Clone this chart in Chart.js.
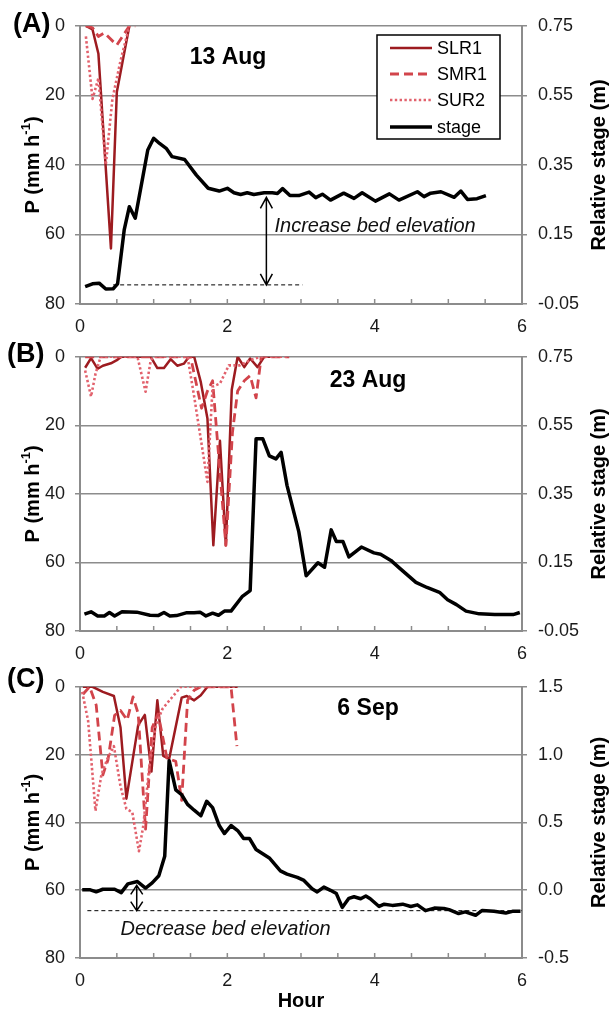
<!DOCTYPE html>
<html>
<head>
<meta charset="utf-8">
<script src="https://cdn.jsdelivr.net/npm/chart.js@4.4.1/dist/chart.umd.min.js"></script>
<style>
  body { margin: 0; background: #fff; }
  .panel { position: absolute; left: 0; width: 609px; }
</style>
</head>
<body>
<div class="panel" style="top:0;height:335px"><canvas id="chartA"></canvas></div>
<div class="panel" style="top:335px;height:330px"><canvas id="chartB"></canvas></div>
<div class="panel" style="top:665px;height:348px"><canvas id="chartC"></canvas></div>
<script>
// series names + tick labels
const seriesNames = ['SLR1', 'SMR1', 'SUR2', 'stage'];
const rainTicks = [0, 20, 40, 60, 80];
const stageTicksAB = [-0.05, 0.15, 0.35, 0.55, 0.75];
const stageTicksC = [-0.5, 0, 0.5, 1, 1.5];
const hourLabels = [0, 2, 4, 6];

// ---- (A) 13 Aug ----
const slrA_h = [0.08, 0.17, 0.25, 0.42, 0.50, 0.58, 0.67];
const slrA_p = [0, 1, 8, 64, 19, 10, 0];
const smrA_h = [0.08, 0.17, 0.25, 0.33, 0.50, 0.67, 0.75];
const smrA_p = [0, 0.5, 3, 2, 5.5, 0, 0];
const surA_h = [0.08, 0.17, 0.25, 0.35, 0.44, 0.55, 0.67];
const surA_p = [3, 21, 15, 40, 21, 10, 0];
const stageA_h = [0.07, 0.17, 0.26, 0.35, 0.45, 0.51, 0.60, 0.67, 0.75, 0.92, 1.00, 1.08, 1.17, 1.25,
  1.42, 1.58, 1.74, 1.89, 2.00, 2.09, 2.18, 2.27, 2.36, 2.50, 2.61, 2.68, 2.75, 2.85, 2.97, 3.11,
  3.20, 3.29, 3.40, 3.58, 3.72, 3.83, 4.01, 4.20, 4.33, 4.58, 4.67, 4.76, 4.90, 5.08, 5.17, 5.26,
  5.39, 5.51];
const stageA_m = [0.000, 0.008, 0.010, -0.007, -0.006, 0.008, 0.163, 0.230, 0.197, 0.393, 0.427, 0.412, 0.398, 0.374,
  0.366, 0.321, 0.283, 0.275, 0.283, 0.270, 0.265, 0.270, 0.265, 0.270, 0.270, 0.268, 0.282, 0.262, 0.262, 0.272,
  0.256, 0.266, 0.249, 0.269, 0.254, 0.270, 0.246, 0.267, 0.249, 0.273, 0.259, 0.269, 0.273, 0.257, 0.275, 0.251,
  0.253, 0.262];
const bedA_h = [0.45, 3.02];
const bedA_m = [0.005, 0.005];

// ---- (B) 23 Aug ----
const slrB_h = [0.07, 0.15, 0.24, 0.31, 0.42, 0.50, 0.56, 0.96, 1.05, 1.14, 1.23, 1.32, 1.41, 1.48, 1.55,
  1.64, 1.73, 1.81, 1.90, 1.98, 2.06, 2.14, 2.23, 2.31, 2.41, 2.50, 2.58];
const slrB_p = [3.2, 0.4, 3.5, 2.6, 1.9, 1, 0, 0, 3.3, 3.3, 0.7, 2.6, 2, 0, 0,
  7.4, 18, 55, 24.5, 55, 9.6, 0, 3, 0.5, 3, 0, 0];
const smrB_h = [0.07, 1.50, 1.65, 1.73, 1.80, 1.98, 2.07, 2.14, 2.23, 2.31, 2.39, 2.46, 2.84];
const smrB_p = [0, 0, 15, 10, 7, 55, 22, 10, 7, 5.5, 12, 0, 0];
const surB_h = [0.07, 0.15, 0.21, 0.28, 0.78, 0.89, 0.96, 1.00, 1.46, 1.55, 1.64, 1.73, 1.80, 1.90, 2.02,
  2.17, 2.31, 2.45, 2.84];
const surB_p = [4, 11.6, 5, 0, 0, 10.2, 1, 0, 0, 11.6, 24, 36.5, 8.7, 7.8, 2.5,
  2.5, 1, 0, 0];
const stageB_h = [0.06, 0.15, 0.24, 0.33, 0.40, 0.47, 0.57, 0.77, 0.95, 1.06, 1.14, 1.22, 1.31, 1.44, 1.55,
  1.63, 1.71, 1.80, 1.88, 1.96, 2.05, 2.20, 2.31, 2.39, 2.48, 2.57, 2.66, 2.73, 2.81, 2.97, 3.07,
  3.23, 3.32, 3.41, 3.48, 3.57, 3.65, 3.82, 3.99, 4.08, 4.22, 4.33, 4.56, 4.71, 4.88, 4.99, 5.11,
  5.24, 5.42, 5.63, 5.88, 5.97];
const stageB_m = [-0.001, 0.006, -0.006, -0.006, 0.004, -0.006, 0.006, 0.005, -0.004, -0.005, 0.004, -0.006, -0.005, 0.003, 0.003,
  0.005, -0.006, 0.002, -0.004, 0.008, 0.008, 0.050, 0.068, 0.511, 0.511, 0.461, 0.452, 0.471, 0.375, 0.240, 0.111,
  0.149, 0.136, 0.245, 0.211, 0.211, 0.166, 0.195, 0.178, 0.174, 0.156, 0.135, 0.092, 0.077, 0.063, 0.041, 0.027,
  0.008, 0.000, -0.002, -0.002, 0.004];

// ---- (C) 6 Sep ----
const slrC_h = [0.04, 0.17, 0.31, 0.46, 0.55, 0.63, 0.79, 0.88, 0.97, 1.05, 1.13, 1.21, 1.38, 1.45, 1.55,
  1.64, 1.73, 2.14];
const slrC_p = [0, 0, 1.5, 2.7, 12, 33, 11.3, 8.3, 25, 4, 20.4, 21.3, 3.2, 2.7, 4,
  2.5, 0, 0];
const smrC_h = [0.04, 0.13, 0.22, 0.31, 0.38, 0.47, 0.55, 0.64, 0.72, 0.79, 0.89, 0.98, 1.06, 1.18, 1.30,
  1.38, 1.46, 1.55, 1.64, 2.05, 2.13];
const smrC_p = [2.2, 0, 5.4, 26, 21.5, 8.4, 7, 9.8, 3, 7.9, 42, 12, 8, 21, 22,
  33.5, 4, 1, 0, 0, 17.5];
const surC_h = [0.03, 0.11, 0.21, 0.29, 0.37, 0.46, 0.55, 0.63, 0.71, 0.80, 0.86, 0.94, 1.03, 1.12, 1.23,
  1.37, 2.14];
const surC_p = [1.5, 10, 36.6, 26, 21.3, 17.5, 29.4, 36, 37, 48.5, 40.9, 23.7, 11.3, 6.5, 3.6,
  0, 0];
const stageC_h = [0.03, 0.13, 0.22, 0.31, 0.47, 0.56, 0.65, 0.78, 0.89, 0.98, 1.07, 1.15, 1.21, 1.30, 1.38,
  1.46, 1.55, 1.64, 1.72, 1.80, 1.89, 1.96, 2.05, 2.14, 2.22, 2.30, 2.39, 2.48, 2.57, 2.72, 2.81,
  2.95, 3.04, 3.15, 3.22, 3.31, 3.40, 3.48, 3.56, 3.65, 3.72, 3.81, 3.88, 3.94, 4.06, 4.13, 4.24,
  4.38, 4.49, 4.58, 4.69, 4.81, 4.94, 5.01, 5.14, 5.23, 5.37, 5.46, 5.62, 5.78, 5.87, 5.98];
const stageC_m = [0.004, 0.004, -0.012, 0.007, 0.007, -0.018, 0.047, 0.064, 0.016, 0.054, 0.107, 0.25, 0.955, 0.74, 0.704,
  0.633, 0.59, 0.549, 0.656, 0.609, 0.477, 0.418, 0.477, 0.44, 0.382, 0.382, 0.30, 0.269, 0.238, 0.143, 0.119,
  0.095, 0.072, 0.011, -0.013, 0.023, -0.001, -0.025, -0.127, -0.06, -0.048, -0.063, -0.043, -0.063, -0.12, -0.103, -0.112,
  -0.103, -0.12, -0.108, -0.151, -0.132, -0.135, -0.143, -0.172, -0.16, -0.185, -0.149, -0.156, -0.168, -0.156, -0.156];
const bedC_h = [0.1, 6.0];
const bedC_m = [-0.151, -0.151];

// styles
const FONT = '"Liberation Sans", Arial, Helvetica, sans-serif';
const colSLR = '#9d1b20';
const colSMR = '#d2444b';
const colSUR = '#e2626d';
const gridCol = '#8c8c8c';
const textCol = '#1a1a1a';

const pts = (xs, ys) => xs.map((x, i) => ({ x: x, y: ys[i] }));

function series(label, data, color, width, dash, axis, order) {
  return {
    label: label, data: data, borderColor: color, backgroundColor: color,
    borderWidth: width, borderDash: dash, yAxisID: axis, order: order,
    pointRadius: 0, tension: 0, fill: false, borderJoinStyle: 'round'
  };
}

// decorations: titles, legend, arrow, notes, inward ticks
const panelDecor = {
  id: 'panelDecor',
  afterDraw(chart, args, o) {
    const ctx = chart.ctx;
    const area = chart.chartArea;
    const x = chart.scales.x, yS = chart.scales.yS;
    ctx.save();
    ctx.fillStyle = textCol;
    ctx.strokeStyle = textCol;

    // inward minor ticks on the hour axis
    ctx.strokeStyle = gridCol;
    ctx.lineWidth = 1.5;
    x.ticks.forEach(t => {
      const px = x.getPixelForValue(t.value);
      if (px <= area.left + 1 || px >= area.right - 1) return;
      ctx.beginPath();
      ctx.moveTo(px, area.bottom);
      ctx.lineTo(px, area.bottom - 5);
      ctx.stroke();
    });

    // panel letter
    ctx.fillStyle = '#000';
    ctx.font = 'bold 27px ' + FONT;
    ctx.textAlign = 'left';
    ctx.textBaseline = 'middle';
    ctx.fillText(o.letter, o.letterX, o.letterY);

    // date
    ctx.font = 'bold 23px ' + FONT;
    ctx.textAlign = 'center';
    ctx.fillText(o.date, x.getPixelForValue(o.dateAt), area.top + o.dateDy);

    // axis titles, both read bottom to top
    const midY = (area.top + area.bottom) / 2;
    ctx.save();
    ctx.translate(33, midY);
    ctx.rotate(-Math.PI / 2);
    const big = 'bold 20px ' + FONT, small = 'bold 13px ' + FONT;
    ctx.font = big; const w1 = ctx.measureText('P (mm h').width, w3 = ctx.measureText(')').width;
    ctx.font = small; const w2 = ctx.measureText('-1').width;
    let cx = -(w1 + w2 + w3) / 2;
    ctx.textAlign = 'left';
    ctx.font = big; ctx.fillText('P (mm h', cx, 0); cx += w1;
    ctx.font = small; ctx.fillText('-1', cx, -7); cx += w2;
    ctx.font = big; ctx.fillText(')', cx, 0);
    ctx.restore();

    ctx.save();
    ctx.translate(599, midY);
    ctx.rotate(-Math.PI / 2);
    ctx.font = 'bold 20px ' + FONT;
    ctx.textAlign = 'center';
    ctx.fillText('Relative stage (m)', 0, 0);
    ctx.restore();

    // bed change arrow
    if (o.arrow) {
      const ax = x.getPixelForValue(o.arrow.at);
      const y1 = yS.getPixelForValue(o.arrow.from), y2 = yS.getPixelForValue(o.arrow.to);
      const hl = o.arrow.head, hw = o.arrow.half;
      ctx.strokeStyle = '#000';
      ctx.lineWidth = 1.5;
      ctx.beginPath();
      ctx.moveTo(ax, y1); ctx.lineTo(ax, y2);
      ctx.moveTo(ax - hw, y1 + hl); ctx.lineTo(ax, y1); ctx.lineTo(ax + hw, y1 + hl);
      ctx.moveTo(ax - hw, y2 - hl); ctx.lineTo(ax, y2); ctx.lineTo(ax + hw, y2 - hl);
      ctx.stroke();
    }

    // note
    if (o.note) {
      ctx.font = 'italic 20px ' + FONT;
      ctx.textAlign = 'left';
      ctx.fillStyle = '#111';
      ctx.fillText(o.note.text, x.getPixelForValue(o.note.at), yS.getPixelForValue(o.note.y));
    }

    // legend box
    if (o.legend) {
      const L = area.right - 145, T = area.top + 9, W = 123, H = 104;
      ctx.fillStyle = '#fff';
      ctx.fillRect(L, T, W, H);
      ctx.strokeStyle = '#000';
      ctx.lineWidth = 1.5;
      ctx.strokeRect(L, T, W, H);
      const rows = [13, 39, 65, 92];
      ctx.font = '18px ' + FONT;
      ctx.textAlign = 'left';
      ctx.textBaseline = 'middle';
      chart.data.datasets.slice(0, 4).forEach((ds, i) => {
        const yy = T + rows[i];
        ctx.save();
        ctx.strokeStyle = ds.borderColor;
        ctx.lineWidth = ds.borderWidth;
        ctx.setLineDash(ds.borderDash || []);
        ctx.beginPath();
        ctx.moveTo(L + 13, yy); ctx.lineTo(L + 55, yy);
        ctx.stroke();
        ctx.restore();
        ctx.fillStyle = '#000';
        ctx.fillText(ds.label, L + 60, yy + 1);
      });
    }
    ctx.restore();
  }
};

function makePanel(id, p) {
  return new Chart(document.getElementById(id), {
    type: 'line',
    data: {
      datasets: [
        series(seriesNames[0], pts(p.slr[0], p.slr[1]), colSLR, 2.5, [], 'yP', 3),
        series(seriesNames[1], pts(p.smr[0], p.smr[1]), colSMR, 2.8, [9, 5], 'yP', 2),
        series(seriesNames[2], pts(p.sur[0], p.sur[1]), colSUR, 2.6, [2.4, 2.4], 'yP', 1),
        series(seriesNames[3], pts(p.stage[0], p.stage[1]), '#000', 3.5, [], 'yS', 0),
        series('bed', pts(p.bed[0], p.bed[1]), '#000', 1, [4, 3], 'yS', 4)
      ]
    },
    options: {
      responsive: true,
      maintainAspectRatio: false,
      animation: false,
      events: [],
      layout: { padding: { left: 0, right: 0, top: p.top, bottom: 0 } },
      plugins: {
        legend: { display: false },
        tooltip: { enabled: false },
        panelDecor: p.decor
      },
      scales: {
        x: {
          type: 'linear', min: 0, max: 6,
          ticks: {
            stepSize: 0.5, autoSkip: false, maxRotation: 0, padding: 12,
            color: textCol, font: { family: FONT, size: 18 },
            callback: v => (hourLabels.includes(v) ? String(v) : '')
          },
          grid: { drawOnChartArea: false, drawTicks: false },
          border: { color: gridCol, width: 2 },
          title: { display: p.hourTitle, text: 'Hour', color: '#000',
                   font: { family: FONT, size: 20, weight: 'bold' }, padding: { top: 0, bottom: 0 } },
          afterFit: s => { s.height = p.xH; }
        },
        yP: {
          type: 'linear', position: 'left', reverse: true, min: 0, max: 80,
          afterBuildTicks: s => { s.ticks = rainTicks.map(v => ({ value: v })); },
          ticks: { padding: 10, color: textCol, font: { family: FONT, size: 18 } },
          grid: { color: gridCol, lineWidth: 1.5, tickLength: 5 },
          border: { color: gridCol, width: 2 },
          afterFit: s => { s.width = 80; }
        },
        yS: {
          type: 'linear', position: 'right', min: p.sMin, max: p.sMax,
          afterBuildTicks: s => { s.ticks = p.sTicks.map(v => ({ value: v })); },
          ticks: { padding: 11, color: textCol, font: { family: FONT, size: 18 },
                   callback: v => v.toFixed(p.dec) },
          grid: { drawOnChartArea: false, color: gridCol, lineWidth: 1.5, tickLength: 5 },
          border: { color: gridCol, width: 2 },
          afterFit: s => { s.width = 87; }
        }
      }
    },
    plugins: [panelDecor]
  });
}

makePanel('chartA', {
  slr: [slrA_h, slrA_p], smr: [smrA_h, smrA_p], sur: [surA_h, surA_p],
  stage: [stageA_h, stageA_m], bed: [bedA_h, bedA_m],
  top: 26, xH: 31, hourTitle: false,
  sMin: -0.05, sMax: 0.75, sTicks: stageTicksAB, dec: 2,
  decor: {
    letter: '(A)', letterX: 13, letterY: 25, date: '13 Aug', dateAt: 2.01, dateDy: 32,
    legend: true,
    arrow: { at: 2.53, from: 0.257, to: 0.005, head: 11, half: 6 },
    note: { text: 'Increase bed elevation', at: 2.64, y: 0.172 }
  }
});

makePanel('chartB', {
  slr: [slrB_h, slrB_p], smr: [smrB_h, smrB_p], sur: [surB_h, surB_p],
  stage: [stageB_h, stageB_m], bed: [[], []],
  top: 18, xH: 34, hourTitle: false,
  sMin: -0.05, sMax: 0.75, sTicks: stageTicksAB, dec: 2,
  decor: { letter: '(B)', letterX: 7, letterY: 20, date: '23 Aug', dateAt: 3.91, dateDy: 24 }
});

makePanel('chartC', {
  slr: [slrC_h, slrC_p], smr: [smrC_h, smrC_p], sur: [surC_h, surC_p],
  stage: [stageC_h, stageC_m], bed: [bedC_h, bedC_m],
  top: 14, xH: 55, hourTitle: true,
  sMin: -0.5, sMax: 1.5, sTicks: stageTicksC, dec: 1,
  decor: {
    letter: '(C)', letterX: 7, letterY: 15, date: '6 Sep', dateAt: 3.91, dateDy: 22,
    arrow: { at: 0.77, from: 0.036, to: -0.151, head: 9, half: 6 },
    note: { text: 'Decrease bed elevation', at: 0.55, y: -0.287 }
  }
});
</script>
</body>
</html>
